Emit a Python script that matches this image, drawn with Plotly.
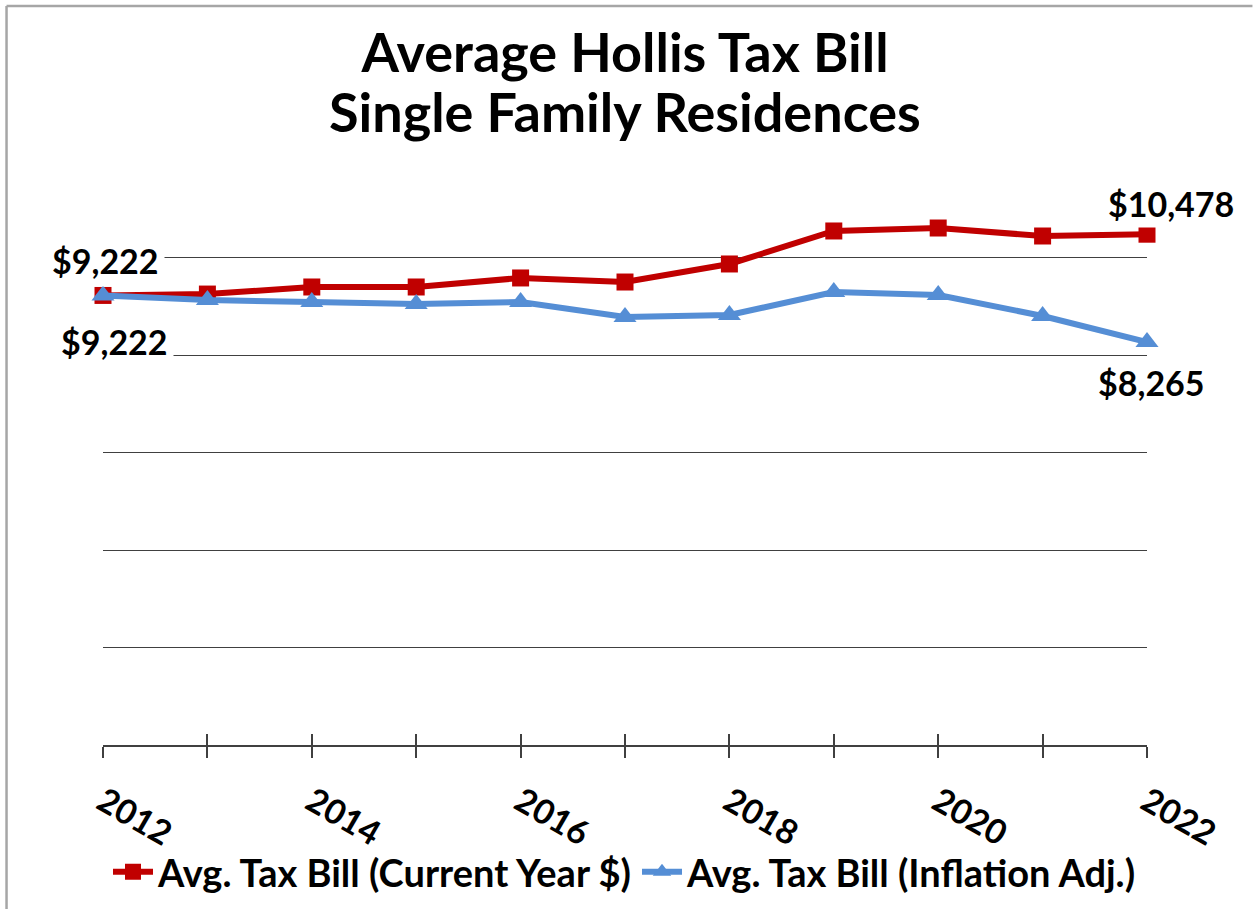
import plotly.graph_objects as go

years = [2012, 2013, 2014, 2015, 2016, 2017, 2018, 2019, 2020, 2021, 2022]
current_dollars = [9222, 9250, 9395, 9395, 9580, 9497, 9867, 10544, 10605, 10441, 10478]
inflation_adj = [9222, 9128, 9087, 9046, 9087, 8779, 8820, 9292, 9231, 8800, 8265]
tick_text = [str(y) if y % 2 == 0 else "" for y in years]

title_lines = ["Average Hollis Tax Bill", "Single Family Residences"]
series_names = ["Avg. Tax Bill (Current Year $)", "Avg. Tax Bill (Inflation Adj.)"]
RED = "#C00000"
BLUE = "#558ED5"
FONT = "Lato"
H = 909
PLOT_H = H - 160 - 164

fig = go.Figure()
fig.add_trace(go.Scatter(
    x=years, y=current_dollars, name=series_names[0], mode="lines+markers",
    line=dict(color=RED, width=6), marker=dict(symbol="square", size=17, color=RED),
    cliponaxis=False))
fig.add_trace(go.Scatter(
    x=years, y=inflation_adj, name=series_names[1], mode="lines+markers",
    line=dict(color=BLUE, width=6), marker=dict(symbol="triangle-up", size=20, color=BLUE),
    cliponaxis=False))
# helper trace for the inside half of the crossing ticks
fig.add_trace(go.Scatter(x=years, y=[None] * len(years), xaxis="x2", showlegend=False,
                         hoverinfo="skip", mode="lines"))

fig.update_layout(
    width=1253, height=H,
    margin=dict(l=103, r=106, t=160, b=164, autoexpand=False),
    paper_bgcolor="white", plot_bgcolor="white",
    font=dict(family=FONT, color="black"),
    title=dict(text="<b>" + title_lines[0] + "</b>",
               x=0.5, xanchor="center", xref="paper",
               y=1 - 53 / H, yref="container", yanchor="middle",
               font=dict(size=54, family=FONT, color="black", weight="bold")),
    showlegend=True,
    legend=dict(orientation="h", x=0.5, xanchor="center", xref="paper",
                y=-(872 - 745) / PLOT_H, yanchor="middle",
                bgcolor="rgba(0,0,0,0)",
                font=dict(size=38, family=FONT, color="black", weight="bold"),
                itemwidth=40, traceorder="normal"),
    xaxis=dict(range=[2012, 2022], tickvals=years, ticktext=tick_text,
               ticks="outside", ticklen=11, tickwidth=1.5, tickcolor="#404040",
               showline=True, linecolor="#404040", linewidth=1.5,
               showgrid=False, zeroline=False, tickangle=30,
               ticklabelstandoff=11, automargin=False,
               tickfont=dict(size=34, family=FONT, color="black", weight="bold")),
    xaxis2=dict(range=[2012, 2022], tickvals=years, overlaying="x", anchor="y",
                side="bottom", ticks="inside", ticklen=11, tickwidth=1.5,
                tickcolor="#404040", showticklabels=False, showgrid=False,
                zeroline=False, showline=False),
    yaxis=dict(range=[0, 12000], dtick=2000, showgrid=True, gridcolor="#404040",
               gridwidth=1.2, showticklabels=False, zeroline=False, ticks="",
               automargin=False),
)

fig.add_annotation(text="<b>" + title_lines[1] + "</b>", xref="paper", yref="paper",
                   x=0.5, y=1 + (160 - 111) / PLOT_H, xanchor="center",
                   yanchor="middle", showarrow=False,
                   font=dict(size=54, family=FONT, color="black", weight="bold"))

label_font = dict(size=34, family=FONT, color="black", weight="bold")
fig.add_annotation(x=years[0], y=current_dollars[0], xref="x", yref="y",
                   text="<b>$" + f"{current_dollars[0]:,}" + "</b>", showarrow=False,
                   xshift=2, yshift=35, font=label_font, bgcolor="white", borderpad=5)
fig.add_annotation(x=years[0], y=inflation_adj[0], xref="x", yref="y",
                   text="<b>$" + f"{inflation_adj[0]:,}" + "</b>", showarrow=False,
                   xshift=11, yshift=-46, font=label_font, bgcolor="white", borderpad=5)
fig.add_annotation(x=years[-1], y=current_dollars[-1], xref="x", yref="y",
                   text="<b>$" + f"{current_dollars[-1]:,}" + "</b>", showarrow=False,
                   xshift=24, yshift=31, font=label_font, bgcolor="white", borderpad=3)
fig.add_annotation(x=years[-1], y=inflation_adj[-1], xref="x", yref="y",
                   text="<b>$" + f"{inflation_adj[-1]:,}" + "</b>", showarrow=False,
                   xshift=4, yshift=-40, font=label_font, bgcolor="white", borderpad=3)

# chart border (top and left edges visible)
fig.add_shape(type="line", xref="paper", yref="paper", x0=-0.0924, x1=1.101,
              y0=1 + 154 / PLOT_H, y1=1 + 154 / PLOT_H, line=dict(color="#A6A6A6", width=2.5))
fig.add_shape(type="line", xref="paper", yref="paper", x0=-0.0924, x1=-0.0924,
              y0=1 + 154 / PLOT_H, y1=-0.3, line=dict(color="#A6A6A6", width=2.5))

fig.write_html("out.html")
